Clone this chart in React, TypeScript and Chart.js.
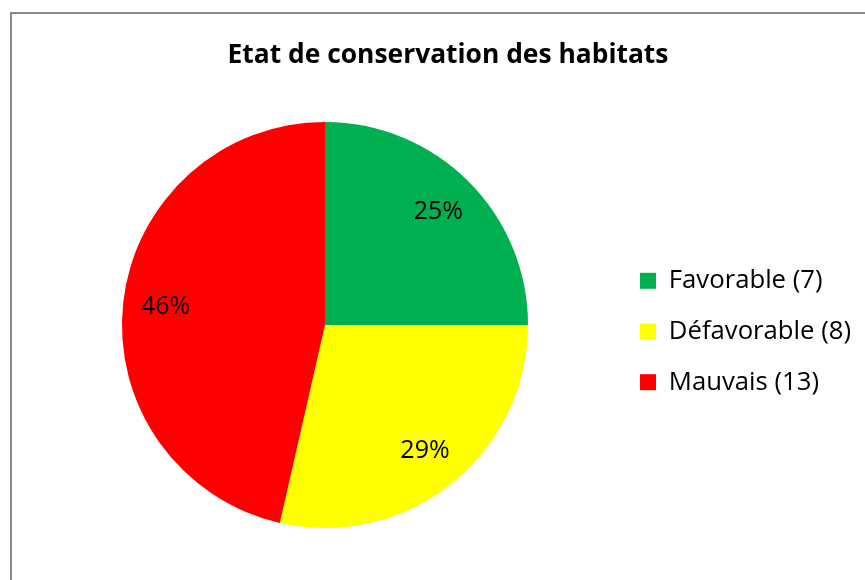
import React, { useEffect, useRef } from "react";
import { Chart, registerables } from "chart.js";
Chart.register(...registerables);

const categories = ["Favorable (7)", "Défavorable (8)", "Mauvais (13)"];
const counts = [7, 8, 13];
const colors = ["#00B050", "#FFFF00", "#FF0000"];
const chartTitle = "Etat de conservation des habitats";

const FONT = "'Open Sans'";

const pctPlugin = {
  id: "pctLabels",
  afterDatasetsDraw(chart: any) {
    const ctx = chart.ctx;
    const meta = chart.getDatasetMeta(0);
    const ds = chart.data.datasets[0].data as number[];
    const total = ds.reduce((a, b) => a + b, 0);
    ctx.save();
    ctx.font = `normal 25px ${FONT}`;
    ctx.fillStyle = "#000";
    ctx.textAlign = "center";
    ctx.textBaseline = "middle";
    meta.data.forEach((arc: any, i: number) => {
      const p = arc.getProps(["x", "y", "startAngle", "endAngle", "outerRadius"], true);
      const mid = (p.startAngle + p.endAngle) / 2;
      const r = p.outerRadius * 0.79;
      const txt = Math.round((ds[i] / total) * 100) + "%";
      ctx.fillText(txt, p.x + Math.cos(mid) * r, p.y + Math.sin(mid) * r);
    });
    ctx.restore();
  },
};

export default function App() {
  const ref = useRef<HTMLCanvasElement>(null);
  useEffect(() => {
    if (!ref.current) return;
    const chart = new Chart(ref.current, {
      type: "pie",
      data: {
        labels: categories,
        datasets: [
          {
            data: counts,
            backgroundColor: colors,
            borderWidth: 0,
          },
        ],
      },
      options: {
        responsive: false,
        animation: false,
        layout: { padding: { left: 35, right: 4, top: 0, bottom: 52 } },
        plugins: {
          title: {
            display: true,
            text: chartTitle,
            color: "#000",
            font: { family: FONT, size: 26.4, weight: "bold" },
            padding: { top: 39.2, bottom: 51.1 },
          },
          legend: {
            position: "right",
            fullSize: false,
            title: { display: true, text: "", font: { size: 1 }, padding: { top: 6, bottom: 5.8 } },
            labels: {
              boxWidth: 16,
              boxHeight: 16,
              padding: 25,
              color: "#000",
              font: { family: FONT, size: 25.7 },
            },
          },
          tooltip: { enabled: false },
        },
      },
      plugins: [pctPlugin],
    });
    return () => chart.destroy();
  }, []);
  return (
    <div style={{ position: "absolute", left: 0, top: 0, width: 865, height: 580, overflow: "hidden", background: "#fff" }}>
      <div
        style={{
          position: "absolute",
          left: 10,
          top: 12,
          width: 900,
          height: 600,
          borderLeft: "2px solid #8a8a8a",
          borderTop: "2px solid #8a8a8a",
        }}
      />
      <canvas ref={ref} width={865} height={580} style={{ position: "absolute", left: 0, top: 0 }} />
    </div>
  );
}
